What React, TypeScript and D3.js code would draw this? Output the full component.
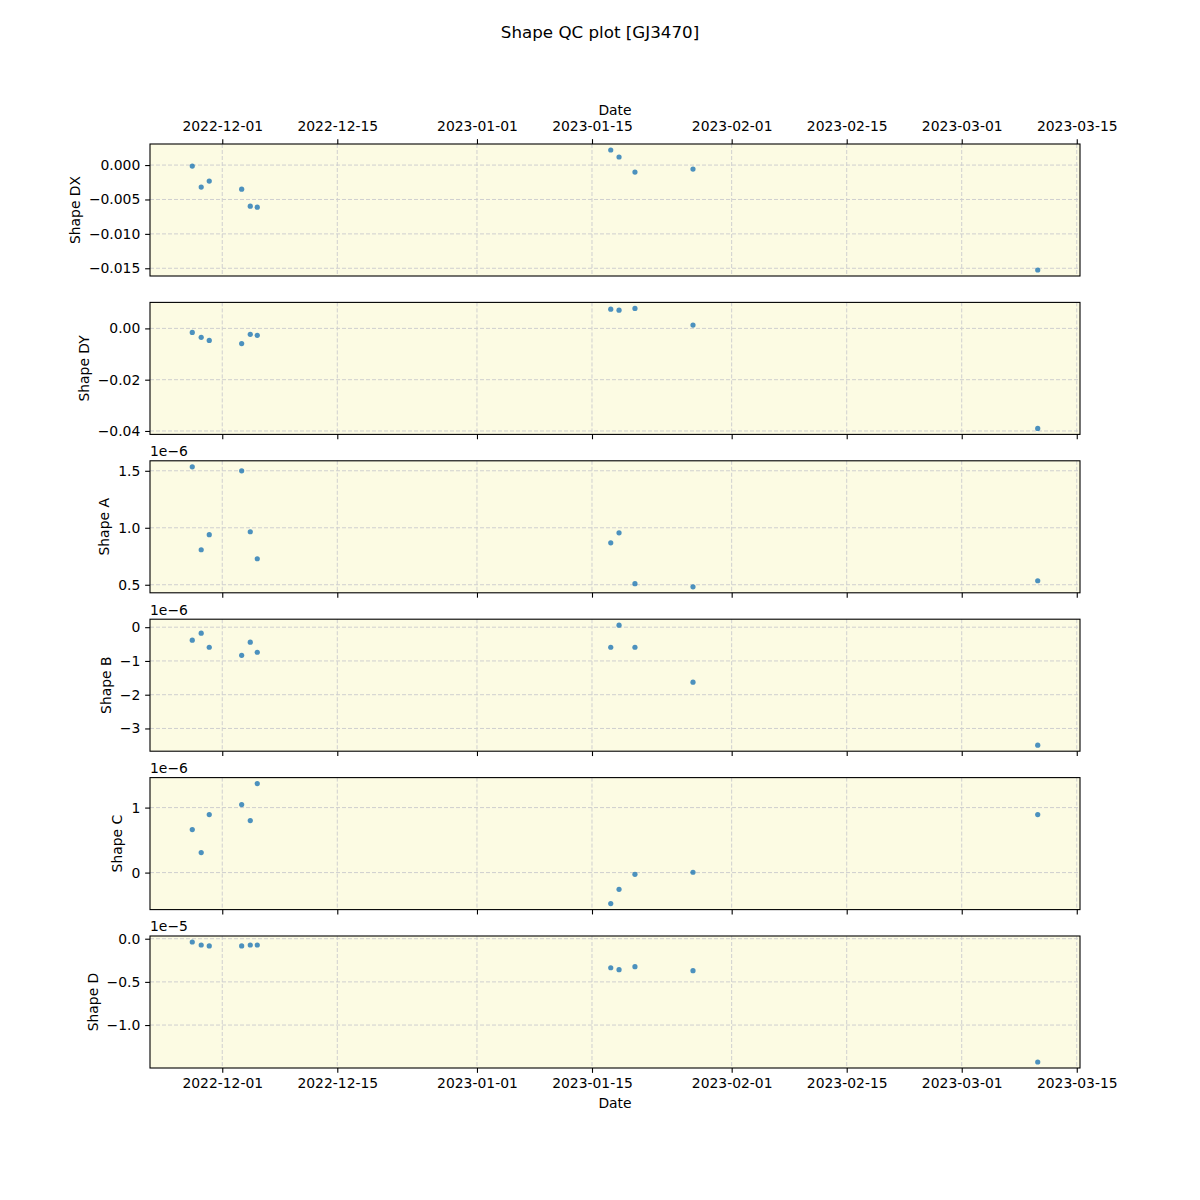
import { useEffect, useRef } from "react";
import * as d3 from "d3";

const obsDates = [
  "2022-11-27T08:24",
  "2022-11-28T10:30",
  "2022-11-29T10:00",
  "2022-12-03T08:40",
  "2022-12-04T09:50",
  "2022-12-05T06:15",
  "2023-01-17T06:45",
  "2023-01-18T07:00",
  "2023-01-20T05:30",
  "2023-01-27T07:00",
  "2023-03-10T06:00",
];

const shapeDX = [-0.00015, -0.0032, -0.00233, -0.0035, -0.00598, -0.00612, 0.00219, 0.00117, -0.00102, -0.00058, -0.01525];
const shapeDY = [-0.00156, -0.0035, -0.0047, -0.0059, -0.0023, -0.0027, 0.0075, 0.0071, 0.0078, 0.0013, -0.039];
const shapeA = [1.535e-6, 0.807e-6, 0.939e-6, 1.5e-6, 0.965e-6, 0.728e-6, 0.868e-6, 0.956e-6, 0.509e-6, 0.482e-6, 0.535e-6];
const shapeB = [-0.386e-6, -0.178e-6, -0.594e-6, -0.832e-6, -0.445e-6, -0.743e-6, -0.594e-6, 0.059e-6, -0.594e-6, -1.63e-6, -3.496e-6];
const shapeC = [0.662e-6, 0.308e-6, 0.892e-6, 1.046e-6, 0.8e-6, 1.369e-6, -0.477e-6, -0.257e-6, -0.026e-6, 0.005e-6, 0.892e-6];
const shapeD = [-0.038e-5, -0.073e-5, -0.084e-5, -0.084e-5, -0.073e-5, -0.073e-5, -0.336e-5, -0.359e-5, -0.324e-5, -0.37e-5, -1.428e-5];

const tickDates = ["2022-12-01", "2022-12-15", "2023-01-01", "2023-01-15", "2023-02-01", "2023-02-15", "2023-03-01", "2023-03-15"];

const dxTicks = [0, -0.005, -0.01, -0.015];
const dyTicks = [0, -0.02, -0.04];
const aTicks = [0.5e-6, 1.0e-6, 1.5e-6];
const bTicks = [0, -1e-6, -2e-6, -3e-6];
const cTicks = [0, 1e-6];
const dTicks = [0, -0.5e-5, -1.0e-5];

const panels = [
  { label: "Shape DX", values: shapeDX, ticks: dxTicks, fmt: ".3f", exp: 0 },
  { label: "Shape DY", values: shapeDY, ticks: dyTicks, fmt: ".2f", exp: 0 },
  { label: "Shape A", values: shapeA, ticks: aTicks, fmt: ".1f", exp: -6 },
  { label: "Shape B", values: shapeB, ticks: bTicks, fmt: "d", exp: -6 },
  { label: "Shape C", values: shapeC, ticks: cTicks, fmt: "d", exp: -6 },
  { label: "Shape D", values: shapeD, ticks: dTicks, fmt: ".1f", exp: -5 },
];

const W = 1200;
const H = 1200;
const FONT = "DejaVu Sans, sans-serif";
const FS = 13.9;
const TICK = 4.86;

export default function App() {
  const ref = useRef<SVGSVGElement>(null);

  useEffect(() => {
    if (!ref.current) return;
    const svg = d3.select(ref.current);
    svg.selectAll("*").remove();

    const parse = d3.utcParse("%Y-%m-%dT%H:%M");
    const parseDay = d3.utcParse("%Y-%m-%d");
    const dates = obsDates.map((d) => parse(d) as Date);
    const ticks = tickDates.map((d) => parseDay(d) as Date);

    const left = 150;
    const right = 1080;
    const top = 144;
    const bottom = 1068;
    const n = panels.length;
    const ph = (bottom - top) / (n + (n - 1) * 0.2);
    const gap = ph * 0.2;

    const [t0, t1] = d3.extent(dates) as [Date, Date];
    const span = +t1 - +t0;
    const x = d3
      .scaleUtc()
      .domain([new Date(+t0 - span * 0.05), new Date(+t1 + span * 0.05)])
      .range([left, right]);

    svg
      .append("rect")
      .attr("width", W)
      .attr("height", H)
      .attr("fill", "#ffffff");

    svg
      .append("text")
      .attr("x", W / 2)
      .attr("y", 38)
      .attr("text-anchor", "middle")
      .attr("font-family", FONT)
      .attr("font-size", 16.7)
      .text("Shape QC plot [GJ3470]");

    const dateFmt = d3.utcFormat("%Y-%m-%d");

    panels.forEach((p, i) => {
      const y0 = top + i * (ph + gap);
      const y1 = y0 + ph;
      const [v0, v1] = d3.extent(p.values) as [number, number];
      const vr = v1 - v0;
      const y = d3
        .scaleLinear()
        .domain([v0 - vr * 0.05, v1 + vr * 0.05])
        .range([y1, y0]);

      const g = svg.append("g");

      g.append("rect")
        .attr("x", left)
        .attr("y", y0)
        .attr("width", right - left)
        .attr("height", ph)
        .attr("fill", "#fcfbe3");

      // grid
      g.selectAll("line.vg")
        .data(ticks)
        .enter()
        .append("line")
        .attr("x1", (d) => x(d))
        .attr("x2", (d) => x(d))
        .attr("y1", y0)
        .attr("y2", y1)
        .attr("stroke", "#cfcfcf")
        .attr("stroke-width", 1)
        .attr("stroke-dasharray", "4,2");

      g.selectAll("line.hg")
        .data(p.ticks)
        .enter()
        .append("line")
        .attr("x1", left)
        .attr("x2", right)
        .attr("y1", (d) => y(d))
        .attr("y2", (d) => y(d))
        .attr("stroke", "#cfcfcf")
        .attr("stroke-width", 1)
        .attr("stroke-dasharray", "4,2");

      g.selectAll("circle")
        .data(p.values)
        .enter()
        .append("circle")
        .attr("cx", (_d, j) => x(dates[j]))
        .attr("cy", (d) => y(d))
        .attr("r", 2.6)
        .attr("fill", "#1f77b4")
        .attr("opacity", 0.8);

      // y axis
      const scale = Math.pow(10, -p.exp);
      const f = d3.format(p.fmt);
      const yAxis = g
        .append("g")
        .attr("transform", `translate(${left},0)`)
        .call(
          d3
            .axisLeft(y)
            .tickValues(p.ticks)
            .tickSize(TICK)
            .tickPadding(TICK)
            .tickFormat((d) => f(Math.round((d as number) * scale * 1000) / 1000))
        );
      yAxis.select(".domain").remove();
      yAxis.selectAll("line").attr("stroke", "#000").attr("stroke-width", 1.1);
      yAxis.selectAll("text").attr("font-family", FONT).attr("font-size", FS).attr("fill", "#000");

      let minX = left;
      yAxis.selectAll<SVGTextElement, unknown>("text").each(function () {
        const b = this.getBBox();
        minX = Math.min(minX, left + b.x);
      });

      g.append("text")
        .attr("transform", `translate(${minX - 9},${(y0 + y1) / 2}) rotate(-90)`)
        .attr("text-anchor", "middle")
        .attr("font-family", FONT)
        .attr("font-size", FS)
        .text(p.label);

      if (p.exp !== 0) {
        g.append("text")
          .attr("x", left)
          .attr("y", y0 - 4.6)
          .attr("font-family", FONT)
          .attr("font-size", FS)
          .text(`1e\u2212${-p.exp}`);
      }

      // x axis
      if (i === 0) {
        const xa = g
          .append("g")
          .attr("transform", `translate(0,${y0})`)
          .call(d3.axisTop(x).tickValues(ticks).tickSize(TICK).tickPadding(TICK).tickFormat((d) => dateFmt(d as Date)));
        xa.select(".domain").remove();
        xa.selectAll("line").attr("stroke", "#000").attr("stroke-width", 1.1);
        xa.selectAll("text").attr("font-family", FONT).attr("font-size", FS).attr("fill", "#000").attr("y", -12.6);
        g.append("text")
          .attr("x", (left + right) / 2)
          .attr("y", 115)
          .attr("text-anchor", "middle")
          .attr("font-family", FONT)
          .attr("font-size", FS)
          .text("Date");
      } else {
        const xa = g
          .append("g")
          .attr("transform", `translate(0,${y1})`)
          .call(
            d3
              .axisBottom(x)
              .tickValues(ticks)
              .tickSize(TICK)
              .tickPadding(TICK)
              .tickFormat((d) => (i === n - 1 ? dateFmt(d as Date) : ""))
          );
        xa.select(".domain").remove();
        xa.selectAll("line").attr("stroke", "#000").attr("stroke-width", 1.1);
        xa.selectAll("text").attr("font-family", FONT).attr("font-size", FS).attr("fill", "#000");
        if (i === n - 1) {
          g.append("text")
            .attr("x", (left + right) / 2)
            .attr("y", 1108)
            .attr("text-anchor", "middle")
            .attr("font-family", FONT)
            .attr("font-size", FS)
            .text("Date");
        }
      }

      g.append("rect")
        .attr("x", left)
        .attr("y", y0)
        .attr("width", right - left)
        .attr("height", ph)
        .attr("fill", "none")
        .attr("stroke", "#000")
        .attr("stroke-width", 1.1);
    });
  }, []);

  return (
    <div style={{ position: "absolute", left: 0, top: 0 }}>
      <svg ref={ref} width={W} height={H} />
    </div>
  );
}
